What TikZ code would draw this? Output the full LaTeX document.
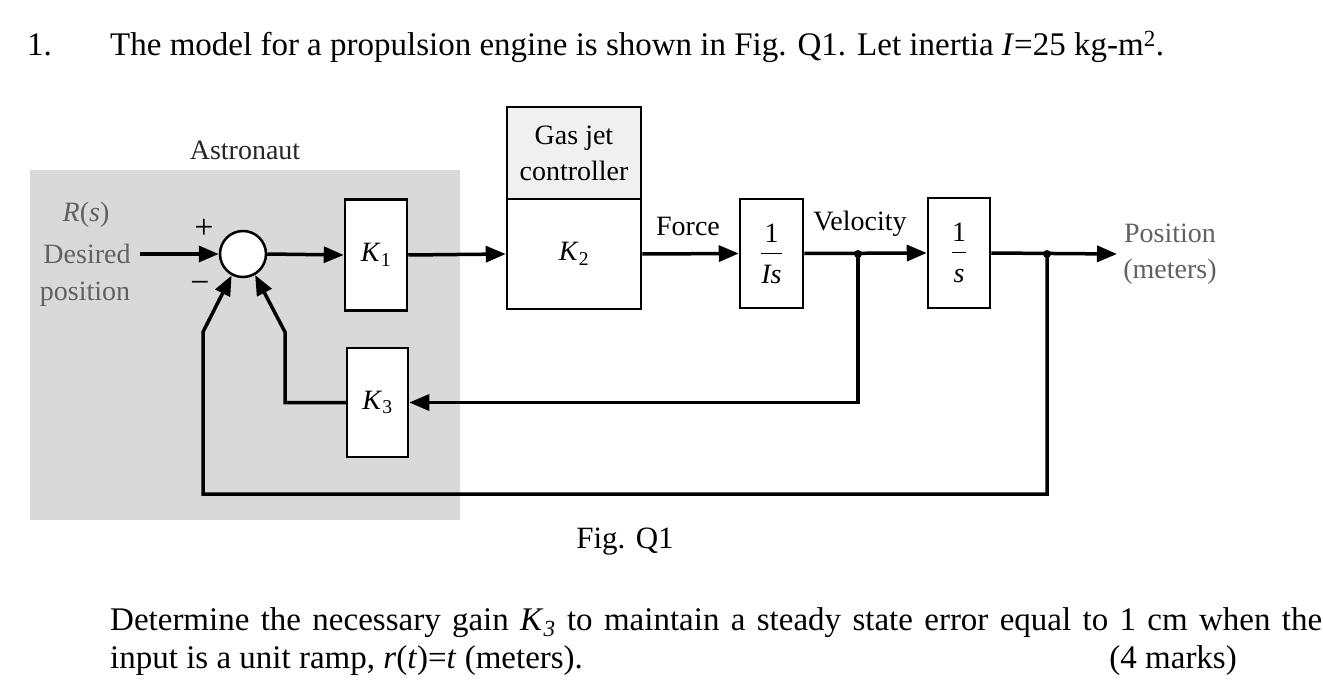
\documentclass[tikz,border=0pt]{standalone}
\usepackage{fontspec}
\setmainfont{Liberation Serif}
\newfontfamily\diafont{Liberation Serif}
\usetikzlibrary{arrows.meta}
\newcommand{\myfrac}[1]{$\displaystyle\frac{\mbox{1}\rule[-7pt]{0pt}{7pt}}{\rule{0pt}{29pt}\mbox{#1}}$}
\begin{document}
\begin{tikzpicture}[x=1pt,y=-1pt,
  conn/.style={line width=3.5pt,-{Triangle[length=20pt,width=16pt]}},
  wire/.style={line width=3.5pt},
  blk/.style={draw,line width=2.5pt,fill=white,inner sep=0pt},
  lbl/.style={font=\diafont\fontsize{28}{32}\selectfont,inner sep=0pt},
  glbl/.style={lbl,text=black!62},
  body/.style={font=\fontsize{33}{38}\selectfont,inner sep=0pt},
  dot/.style={circle,fill=black,inner sep=0pt,minimum size=8pt}
]
\useasboundingbox (0,0) rectangle (1323,685);
\fill[gray!30] (30,170) rectangle (460,520);

% title
\node[body,anchor=base west] (num) at (27,56) {1.};
\node[body,anchor=base west] (title) at (110,56) {The model for a propulsion engine is shown in Fig. Q1. Let inertia \textit{I}=25 kg-m\textsuperscript{2}.};

% blocks
\node[draw,circle,line width=2.5pt,fill=white,minimum size=46pt,inner sep=0pt] (sum) at (243,254) {};
\node[blk,minimum width=62pt,minimum height=111pt,lbl] (k1) at (376,255) {\textit{K}\textsubscript{1}};
\node[blk,minimum width=61pt,minimum height=109pt,lbl] (k3) at (377.5,402.5) {\textit{K}\textsubscript{3}};
\node[blk,minimum width=134pt,minimum height=110pt,lbl] (k2) at (574,254) {\textit{K}\textsubscript{2}};
\node[blk,fill=gray!12,minimum width=134pt,minimum height=92pt,lbl,align=center] (gas) at (574,153) {Gas jet\\[4pt]controller};
\node[blk,minimum width=63pt,minimum height=109pt,lbl] (gis) at (771.5,253.5) {\myfrac{\textit{Is}}};
\node[blk,minimum width=62pt,minimum height=110pt,lbl] (gs) at (959,253) {\myfrac{\textit{s}}};

% coordinates
\coordinate (in) at (140,254);
\coordinate (out) at (1117,254);
\node[dot] (vdot) at (858,254) {};
\node[dot] (pdot) at (1047,254) {};
\coordinate (c1) at (203,494);
\coordinate (c2) at (203,332);
\coordinate (c3) at (285,332);

% connectors
\draw[conn] (in) -- (sum.west);
\draw[conn] (sum.east) -- (k1.west);
\draw[conn] (k1.east) -- (k2.west);
\draw[conn] (k2.east) -- (gis.west);
\draw[conn] (gis.east) -- (gs.west);
\draw[conn] (gs.east) -- (out);
\draw[conn] (vdot.center) |- (k3.east);
\draw[conn] (pdot.center) |- (c1) -- (c2) -- (sum.242);
\draw[conn] (k3.west) -| (c3) -- (sum.300);

% labels
\node[lbl,text=black!85] (astro) at (245,150) {Astronaut};
\node[glbl] (rs) at (86,215) {\textit{R}(\textit{s})};
\node[glbl] (des) at (87,254) {Desired};
\node[glbl] (pos) at (85,294) {position};
\node[lbl,font=\diafont\fontsize{34}{36}\selectfont] (plus) at (204,229) {+};
\node[lbl,font=\diafont\fontsize{34}{36}\selectfont] (minus) at (200,287) {\textminus};
\node[lbl] (force) at (688,226) {Force};
\node[lbl] (vel) at (860,224) {Velocity};
\node[glbl] (posn) at (1170,233) {Position};
\node[glbl] (met) at (1170,272) {(meters)};
\node[lbl,font=\fontsize{31}{36}\selectfont] (fig) at (625,542) {Fig. Q1};

% question text
\node[body,anchor=base west] (l1) at (110,630) {\makebox[1212pt][s]{Determine the necessary gain \textit{K}\textsubscript{\textit{3}} to maintain a steady state error equal to 1 cm when the}};
\node[body,anchor=base west] (l2) at (110,668) {input is a unit ramp, \textit{r}(\textit{t})=\textit{t} (meters).};
\node[body,anchor=base east] (marks) at (1237,668) {(4 marks)};
\end{tikzpicture}
\end{document}
